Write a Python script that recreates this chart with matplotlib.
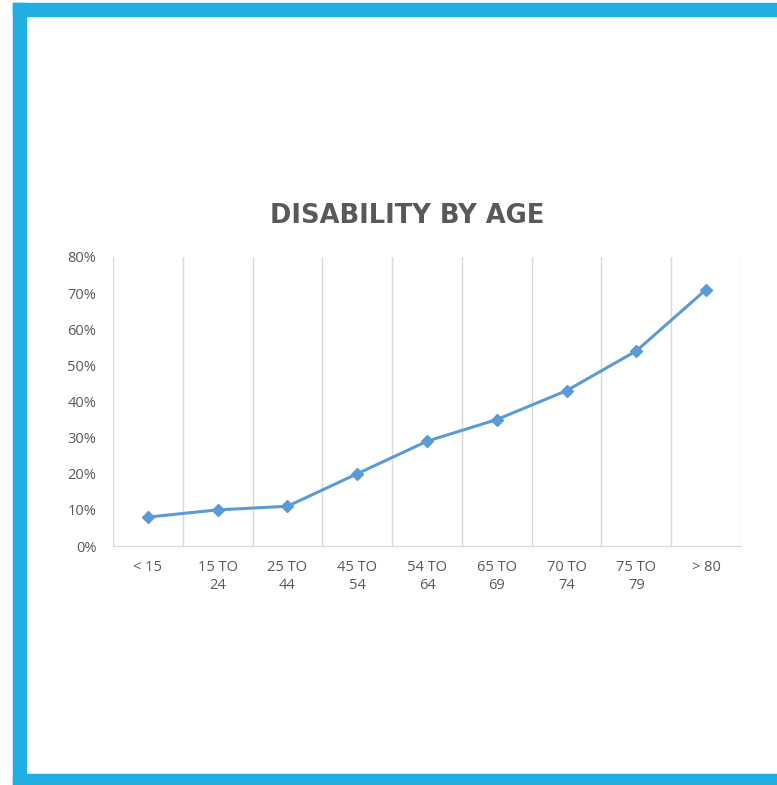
import numpy as np
import matplotlib
matplotlib.use("Agg")
import matplotlib.pyplot as plt
from matplotlib.patches import Rectangle
from matplotlib.ticker import PercentFormatter

# age groups and share of people with a disability
age_groups = ["< 15", "15 TO\n24", "25 TO\n44", "45 TO\n54", "54 TO\n64",
              "65 TO\n69", "70 TO\n74", "75 TO\n79", "> 80"]
disability = [0.08, 0.10, 0.11, 0.20, 0.29, 0.35, 0.43, 0.54, 0.71]
y_ticks = [0.0, 0.1, 0.2, 0.3, 0.4, 0.5, 0.6, 0.7, 0.8]

plt.rcParams['font.family'] = ['Open Sans', 'DejaVu Sans']
text_grey = "#595959"
grid_grey = "#d9d9d9"
line_blue = "#5b9bd5"
frame_blue = "#1fade2"

fig = plt.figure(figsize=(7.77, 7.85), dpi=100)

# thick frame on left, top and bottom
W, H = 777, 785
for x0, y0, w, h in [(13, 3, W - 13, 13), (13, 3, 13, H - 3), (13, 774, W - 13, 11)]:
    fig.patches.append(Rectangle((x0 / W, 1 - (y0 + h) / H), w / W, h / H,
                                 transform=fig.transFigure, color=frame_blue, zorder=0))

ax = fig.add_axes([113 / W, 1 - 546 / H, (741 - 113) / W, (546 - 257) / H])
x = np.arange(len(age_groups))
ax.plot(x, disability, color=line_blue, lw=2.2, marker="D", ms=6.5,
        markeredgecolor=line_blue, zorder=3, clip_on=False)

ax.set_xlim(-0.5, len(age_groups) - 0.5)
ax.set_ylim(0, 0.8)
ax.set_yticks(y_ticks)
ax.yaxis.set_major_formatter(PercentFormatter(1.0, decimals=0))
ax.set_xticks(x)
ax.set_xticklabels(age_groups, linespacing=1.25)
ax.set_xticks(np.arange(-0.5, len(age_groups)), minor=True)
ax.grid(True, which="minor", axis="x", color=grid_grey, lw=1)
ax.tick_params(axis="both", which="both", length=0, colors=text_grey, labelsize=10.5)
ax.tick_params(axis="x", pad=10)
ax.tick_params(axis="y", pad=12)
for lab in ax.get_yticklabels():
    lab.set_horizontalalignment("right")

for side in ["top", "right", "left"]:
    ax.spines[side].set_visible(False)
ax.spines["bottom"].set_color(grid_grey)

fig.text(407 / W, 1 - 216 / H, "DISABILITY BY AGE", ha="center", va="center",
         fontsize=18.5, fontweight="bold", color=text_grey, family="DejaVu Sans")

fig.savefig("out.png", dpi=100, facecolor="white")
